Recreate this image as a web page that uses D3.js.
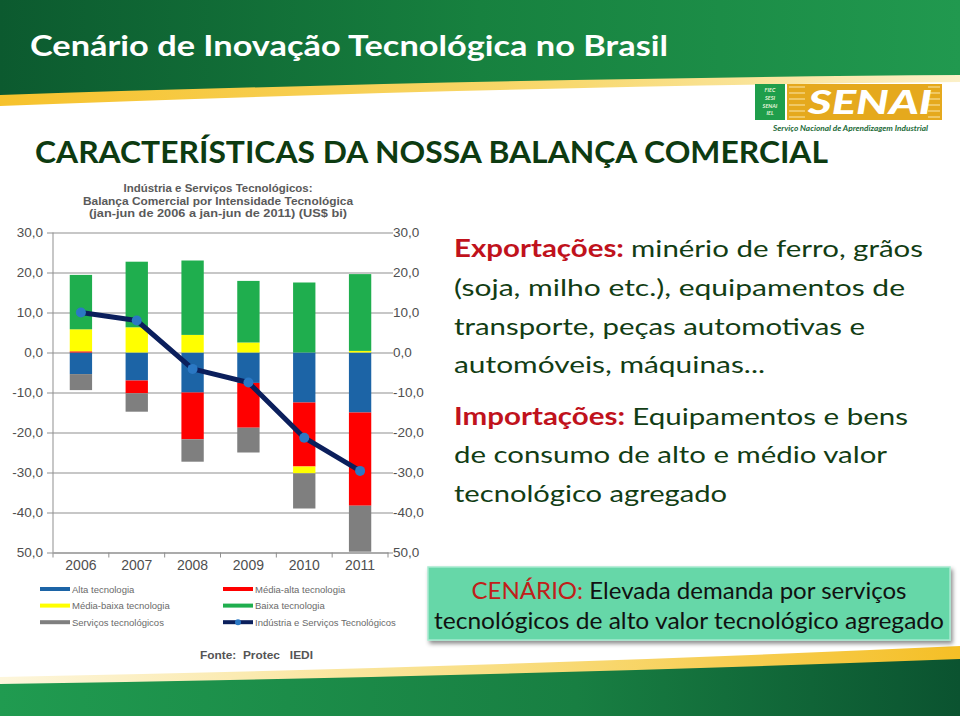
<!DOCTYPE html>
<html>
<head>
<meta charset="utf-8">
<script src="https://cdn.jsdelivr.net/npm/d3@7"></script>
<style>
  body { margin: 0; background: #fff; }
  svg { display: block; font-family: Lato, 'Open Sans', sans-serif; }
  .axis-label { font-family: 'Liberation Sans', Arial, sans-serif; fill: #4f4f4f; }
</style>
</head>
<body>
<svg id="slide" width="960" height="716"></svg>
<script>
// data (US$ bi, jan-jun)
const years = ['2006', '2007', '2008', '2009', '2010', '2011'];
const altaTec = [-5.4, -7.0, -10.0, -7.6, -12.5, -15.0];
const mediaAltaTec = [0.3, -3.2, -11.7, -11.2, -16.0, -23.3];
const mediaBaixaTec = [5.5, 6.3, 4.4, 2.5, -1.7, 0.4];
const baixaTec = [13.6, 16.4, 18.6, 15.4, 17.5, 19.2];
const servicosTec = [-4.0, -4.6, -5.6, -6.2, -8.8, -11.5];
const saldoTotal = [10.0, 8.0, -4.1, -7.5, -21.3, -29.6];

const yTicks = [30, 20, 10, 0, -10, -20, -30, -40, -50];
const yTickLabels = ['30,0', '20,0', '10,0', '0,0', '-10,0', '-20,0', '-30,0', '-40,0', '50,0'];

const seriesKeys = ['alta', 'mediaAlta', 'mediaBaixa', 'baixa', 'servicos'];
const seriesNames = ['Alta tecnologia', 'Média-alta tecnologia', 'Média-baixa tecnologia',
  'Baixa tecnologia', 'Serviços tecnológicos'];
const seriesColors = ['#1c64a6', '#ff0000', '#ffff00', '#1fae4e', '#7f7f7f'];
const lineName = 'Indústria e Serviços Tecnológicos';

const chartTitle = ['Indústria e Serviços Tecnológicos:',
  'Balança Comercial por Intensidade Tecnológica',
  '(jan-jun de 2006 a jan-jun de 2011) (US$ bi)'];

const svg = d3.select('#slide');
const defs = svg.append('defs');

const grad = (id, stops) => {
  const g = defs.append('linearGradient').attr('id', id);
  stops.forEach(([o, c]) => g.append('stop').attr('offset', o).attr('stop-color', c));
};
grad('topGreen', [[0, '#0c5a2f'], [0.5, '#17813f'], [1, '#21994f']]);
grad('topYellow', [[0, '#f6c22c'], [0.6, '#f8d970'], [1, '#fbf0c8']]);
grad('botGreen', [[0, '#209b50'], [0.6, '#187f42'], [1, '#0b5330']]);
grad('botYellow', [[0, '#fdf6dc'], [0.5, '#f9df86'], [1, '#f5bf26']]);

const shadow = defs.append('filter').attr('id', 'shadow')
    .attr('x', '-5%').attr('y', '-10%').attr('width', '115%').attr('height', '140%');
shadow.append('feDropShadow')
    .attr('dx', 2).attr('dy', 3).attr('stdDeviation', 2)
    .attr('flood-color', '#000').attr('flood-opacity', 0.45);

// header band
svg.append('path')
    .attr('d', 'M0,0 H960 V82 Q520,86 0,106 Z')
    .attr('fill', 'url(#topYellow)');
svg.append('path')
    .attr('d', 'M0,0 H960 V75 Q520,78 0,95 Z')
    .attr('fill', 'url(#topGreen)');

svg.append('text')
    .attr('x', 30)
    .attr('y', 56)
    .attr('fill', '#fff')
    .attr('font-size', 28)
    .attr('font-weight', 'bold')
    .attr('textLength', 638)
    .attr('lengthAdjust', 'spacingAndGlyphs')
    .text('Cenário de Inovação Tecnológica no Brasil');

// footer band
svg.append('path')
    .attr('d', 'M0,677 Q480,668 960,646 V716 H0 Z')
    .attr('fill', 'url(#botYellow)');
svg.append('path')
    .attr('d', 'M0,684 Q480,677 960,659 V716 H0 Z')
    .attr('fill', 'url(#botGreen)');

// SENAI logo
const logo = svg.append('g');
logo.append('rect')
    .attr('x', 755).attr('y', 84).attr('width', 30).attr('height', 36)
    .attr('fill', '#1f9e4b');
['FIEC', 'SESI', 'SENAI', 'IEL'].forEach((t, i) => {
  logo.append('text')
      .attr('x', 770)
      .attr('y', 92 + (i * 7.8))
      .attr('text-anchor', 'middle')
      .attr('fill', '#e9f5dc')
      .attr('font-size', 5.5)
      .attr('font-weight', 'bold')
      .attr('font-style', 'italic')
      .text(t);
});
logo.append('rect')
    .attr('x', 787).attr('y', 84).attr('width', 155).attr('height', 36)
    .attr('fill', '#e5a91d');
d3.range(6).forEach((i) => {
  logo.append('line')
      .attr('x1', 789).attr('x2', 805)
      .attr('y1', 87 + (i * 6)).attr('y2', 87 + (i * 6))
      .attr('stroke', '#f7dd95').attr('stroke-width', 1.2);
  logo.append('line')
      .attr('x1', 928).attr('x2', 940)
      .attr('y1', 87 + (i * 6)).attr('y2', 87 + (i * 6))
      .attr('stroke', '#f7dd95').attr('stroke-width', 1.2);
});
logo.append('text')
    .attr('x', 808)
    .attr('y', 114)
    .attr('fill', '#fff')
    .attr('font-size', 33)
    .attr('font-weight', 900)
    .attr('font-style', 'italic')
    .attr('textLength', 124)
    .attr('lengthAdjust', 'spacingAndGlyphs')
    .text('SENAI');
logo.append('text')
    .attr('x', 773)
    .attr('y', 131)
    .attr('fill', '#1d6b38')
    .attr('font-size', 7.5)
    .attr('font-weight', 'bold')
    .attr('font-style', 'italic')
    .attr('textLength', 155)
    .attr('lengthAdjust', 'spacingAndGlyphs')
    .text('Serviço Nacional de Aprendizagem Industrial');

// slide heading
svg.append('text')
    .attr('x', 35)
    .attr('y', 163)
    .attr('fill', '#0d3b11')
    .attr('font-size', 30)
    .attr('font-weight', 'bold')
    .attr('textLength', 793)
    .attr('lengthAdjust', 'spacingAndGlyphs')
    .text('CARACTERÍSTICAS DA NOSSA BALANÇA COMERCIAL');

// ---- chart ----
const plot = { left: 53, right: 388, top: 232.5, bottom: 552.5 };

const x = d3.scaleBand()
    .domain(years)
    .range([plot.left, plot.right])
    .paddingInner(0.6)
    .paddingOuter(0.3);

const y = d3.scaleLinear()
    .domain([-50, 30])
    .range([plot.bottom, plot.top]);

const rows = years.map((yr, i) => ({
  year: yr,
  alta: altaTec[i],
  mediaAlta: mediaAltaTec[i],
  mediaBaixa: mediaBaixaTec[i],
  baixa: baixaTec[i],
  servicos: servicosTec[i],
}));

const stacked = d3.stack()
    .keys(seriesKeys)
    .offset(d3.stackOffsetDiverging)(rows);

const chart = svg.append('g');

const titleWidths = [189, 270, 258];
chartTitle.forEach((t, i) => {
  chart.append('text')
      .attr('x', 218)
      .attr('y', 192 + (i * 12.5))
      .attr('text-anchor', 'middle')
      .attr('fill', '#5a5a5a')
      .attr('font-family', "'Liberation Sans', Arial, sans-serif")
      .attr('font-size', 11.5)
      .attr('font-weight', 'bold')
      .attr('textLength', titleWidths[i])
      .attr('lengthAdjust', 'spacingAndGlyphs')
      .text(t);
});

// left axis with gridlines
chart.append('g')
    .attr('class', 'y axis')
    .attr('transform', `translate(${plot.left - 6}, 0)`)
    .call(d3.axisLeft(y)
      .tickValues(yTicks)
      .tickFormat((d, i) => yTickLabels[i])
      .tickSizeInner(-(plot.right - plot.left + 6))
      .tickSizeOuter(0)
      .tickPadding(4))
    .call(g => g.select('.domain').remove())
    .call(g => g.selectAll('line').attr('stroke', '#8f8f8f'))
    .call(g => g.selectAll('text')
      .attr('class', 'axis-label')
      .attr('font-size', 13.5)
      .attr('fill', '#4f4f4f'));

// right axis labels
chart.append('g')
    .attr('transform', `translate(${plot.right}, 0)`)
    .call(d3.axisRight(y)
      .tickValues(yTicks)
      .tickFormat((d, i) => yTickLabels[i])
      .tickSizeInner(5)
      .tickSizeOuter(0)
      .tickPadding(0))
    .call(g => g.select('.domain').remove())
    .call(g => g.selectAll('line').attr('stroke', '#8f8f8f'))
    .call(g => g.selectAll('text')
      .attr('class', 'axis-label')
      .attr('font-size', 13.5)
      .attr('fill', '#4f4f4f'));

// vertical axis line
chart.append('line')
    .attr('x1', plot.left).attr('x2', plot.left)
    .attr('y1', y(30)).attr('y2', y(-50))
    .attr('stroke', '#8f8f8f');

// bars
chart.selectAll('.serie')
    .data(stacked)
  .enter().append('g')
    .attr('class', 'serie')
    .attr('fill', (d, i) => seriesColors[i])
  .selectAll('rect')
    .data(d => d)
  .enter().append('rect')
    .attr('x', d => x(d.data.year))
    .attr('width', x.bandwidth())
    .attr('y', d => y(Math.max(d[0], d[1])))
    .attr('height', d => Math.abs(y(d[0]) - y(d[1])));

// bottom axis
const xAxis = chart.append('g')
    .attr('transform', `translate(0, ${plot.bottom})`)
    .call(d3.axisBottom(x).tickSize(0).tickPadding(8))
    .call(g => g.select('.domain').attr('stroke', '#8f8f8f'))
    .call(g => g.selectAll('text')
      .attr('class', 'axis-label')
      .attr('font-size', 14)
      .attr('fill', '#505050'));

const boundaries = years.map(yr => x(yr) - (x.step() * x.paddingInner()) / 2)
    .concat([plot.right]);
xAxis.selectAll('.boundary')
    .data(boundaries)
  .enter().append('line')
    .attr('class', 'boundary')
    .attr('x1', d => d).attr('x2', d => d)
    .attr('y1', 0).attr('y2', 5)
    .attr('stroke', '#8f8f8f');

// total balance line
const line = d3.line()
    .x((d, i) => x(years[i]) + (x.bandwidth() / 2))
    .y(d => y(d));

chart.append('path')
    .datum(saldoTotal)
    .attr('fill', 'none')
    .attr('stroke', '#0b1f5c')
    .attr('stroke-width', 5)
    .attr('stroke-linejoin', 'round')
    .attr('d', line);

chart.selectAll('.dot')
    .data(saldoTotal)
  .enter().append('circle')
    .attr('class', 'dot')
    .attr('r', 5)
    .attr('cx', (d, i) => x(years[i]) + (x.bandwidth() / 2))
    .attr('cy', d => y(d))
    .attr('fill', '#2b78c4');

// legend
const legendItems = [0, 1, 2, 3, 4].map(i => ({ name: seriesNames[i], color: seriesColors[i] }))
    .concat([{ name: lineName, color: '#0b1f5c', dot: true }]);
const legend = chart.append('g');
legendItems.forEach((item, j) => {
  const col = j % 2;
  const row = Math.floor(j / 2);
  const lx = col === 0 ? 40 : 223;
  const ly = 589 + (row * 16.6);
  const g = legend.append('g').attr('transform', `translate(${lx}, ${ly})`);
  g.append('rect')
      .attr('x', 0).attr('y', -2)
      .attr('width', 30).attr('height', 4)
      .attr('fill', item.color);
  if (item.dot) {
    g.append('circle').attr('cx', 15).attr('cy', 0).attr('r', 3).attr('fill', '#2b78c4');
  }
  g.append('text')
      .attr('x', 32)
      .attr('y', 3.5)
      .attr('font-family', "'Liberation Sans', Arial, sans-serif")
      .attr('font-size', 9.5)
      .attr('fill', '#6a6a6a')
      .text(item.name);
});

chart.append('text')
    .attr('x', 200)
    .attr('y', 659)
    .attr('font-family', "'Liberation Sans', Arial, sans-serif")
    .attr('font-size', 11.5)
    .attr('font-weight', 'bold')
    .attr('fill', '#555')
    .attr('xml:space', 'preserve')
    .attr('textLength', 113)
    .attr('lengthAdjust', 'spacingAndGlyphs')
    .text('Fonte:  Protec   IEDI');

// ---- right-hand text ----
const textLines = [
  { y: 257, w: 469, parts: [['Exportações: ', true], ['minério de ferro, grãos', false]] },
  { y: 296, w: 451, parts: [['(soja, milho etc.), equipamentos de', false]] },
  { y: 335, w: 411, parts: [['transporte, peças automotivas e', false]] },
  { y: 373, w: 311, parts: [['automóveis, máquinas...', false]] },
  { y: 425, w: 454, parts: [['Importações: ', true], ['Equipamentos e bens', false]] },
  { y: 463, w: 433, parts: [['de consumo de alto e médio valor', false]] },
  { y: 502, w: 273, parts: [['tecnológico agregado', false]] },
];
textLines.forEach((l) => {
  const t = svg.append('text')
      .attr('x', 454)
      .attr('y', l.y)
      .attr('font-size', 24)
      .attr('textLength', l.w)
      .attr('lengthAdjust', 'spacingAndGlyphs')
      .attr('xml:space', 'preserve');
  l.parts.forEach(([s, bold]) => {
    t.append('tspan')
        .attr('fill', bold ? '#c0121c' : '#123d14')
        .attr('font-weight', bold ? 'bold' : 'normal')
        .text(s);
  });
});

// scenario box
svg.append('rect')
    .attr('x', 428).attr('y', 567)
    .attr('width', 522).attr('height', 73)
    .attr('fill', '#66d7a8')
    .attr('stroke', '#a6ead0')
    .attr('stroke-width', 1.5)
    .attr('filter', 'url(#shadow)');

const boxText1 = svg.append('text')
    .attr('x', 689)
    .attr('y', 599)
    .attr('text-anchor', 'middle')
    .attr('font-size', 23)
    .attr('textLength', 435)
    .attr('lengthAdjust', 'spacingAndGlyphs');
boxText1.append('tspan').attr('fill', '#c0201a').text('CENÁRIO: ');
boxText1.append('tspan').attr('fill', '#111').text('Elevada demanda por serviços');

svg.append('text')
    .attr('x', 689)
    .attr('y', 629)
    .attr('text-anchor', 'middle')
    .attr('font-size', 23)
    .attr('fill', '#111')
    .attr('textLength', 510)
    .attr('lengthAdjust', 'spacingAndGlyphs')
    .text('tecnológicos de alto valor tecnológico agregado');
</script>
</body>
</html>
